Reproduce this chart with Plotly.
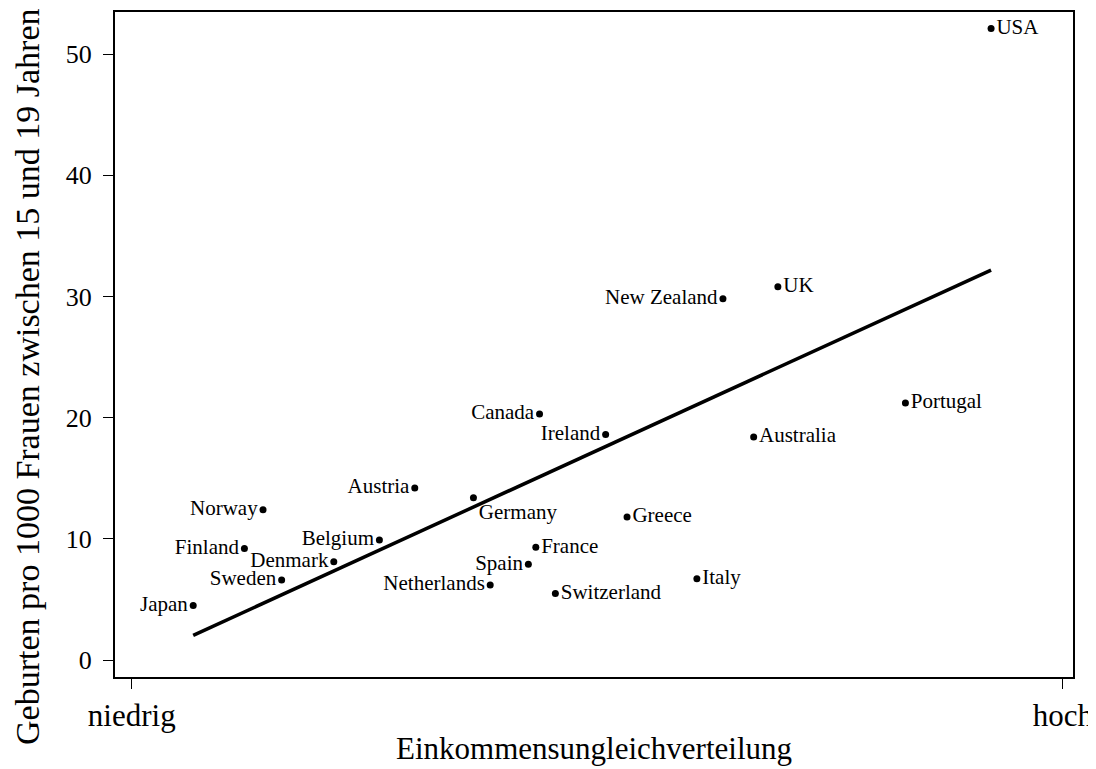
import numpy as np
import plotly.graph_objects as go

countries = ["USA", "UK", "New Zealand", "Portugal", "Australia", "Canada", "Ireland",
             "Greece", "Germany", "Austria", "Norway", "Belgium", "Finland", "Denmark",
             "Sweden", "Japan", "France", "Spain", "Netherlands", "Switzerland", "Italy"]
inequality = [9.23, 6.94, 6.35, 8.31, 6.68, 4.38, 5.09,
              5.32, 3.67, 3.04, 1.41, 2.66, 1.21, 2.17,
              1.61, 0.66, 4.34, 4.26, 3.85, 4.55, 6.07]
births = [52.1, 30.8, 29.8, 21.2, 18.4, 20.3, 18.6,
          11.8, 13.4, 14.2, 12.4, 9.9, 9.2, 8.1,
          6.6, 4.5, 9.3, 7.9, 6.2, 5.5, 6.7]
label_pos = ["middle right", "middle right", "middle left", "middle right", "middle right",
             "middle left", "middle left", "middle right", "bottom right", "middle left",
             "middle left", "middle left", "middle left", "middle left", "middle left",
             "middle left", "middle right", "middle left", "middle left", "middle right",
             "middle right"]

x_ticks = [0, 10]
x_ticklabels = ["niedrig", "hoch"]
y_ticks = [0, 10, 20, 30, 40, 50]

FONT = "Liberation Serif"

x = np.array(inequality)
y = np.array(births)
slope, intercept = np.polyfit(x, y, 1)
fx = np.array([x.min(), x.max()])
fy = slope * fx + intercept

fig = go.Figure()
fig.add_trace(go.Scatter(x=fx, y=fy, mode="lines",
                         line=dict(color="black", width=3.5), hoverinfo="skip"))
fig.add_trace(go.Scatter(x=inequality, y=births, mode="markers+text",
                         text=countries, textposition=label_pos,
                         textfont=dict(family=FONT, size=21, color="black"),
                         marker=dict(color="black", size=7)))

# page body has an 8px margin, so the figure is 8px smaller and margins shifted
fig.update_layout(
    width=1088, height=761,
    margin=dict(l=107, r=23, t=4, b=92),
    paper_bgcolor="white", plot_bgcolor="white",
    showlegend=False,
    font=dict(family=FONT, color="black"),
    xaxis=dict(range=[-0.18, 10.11], tickvals=x_ticks, ticktext=x_ticklabels,
               automargin=False,
               showgrid=False, zeroline=False, showline=True, mirror=True,
               linecolor="black", linewidth=2, ticks="outside", ticklen=10,
               tickcolor="black", tickfont=dict(family=FONT, size=31)),
    yaxis=dict(range=[-1.4, 53.47], tickvals=y_ticks, automargin=False,
               showgrid=False, zeroline=False, showline=True, mirror=True,
               linecolor="black", linewidth=2, ticks="outside", ticklen=10,
               ticklabelstandoff=6,
               tickcolor="black", tickfont=dict(family=FONT, size=26)),
    annotations=[
        dict(text="Einkommensungleichverteilung", xref="paper", yref="paper",
             x=0.5, y=-0.107, xanchor="center", yanchor="middle", showarrow=False,
             font=dict(family=FONT, size=31)),
        dict(text="Geburten pro 1000 Frauen zwischen 15 und 19 Jahren",
             xref="paper", yref="paper", x=-0.092, y=0.451, xanchor="center",
             yanchor="middle", textangle=-90, showarrow=False,
             font=dict(family=FONT, size=34)),
    ],
)

fig.write_html("out.html")
